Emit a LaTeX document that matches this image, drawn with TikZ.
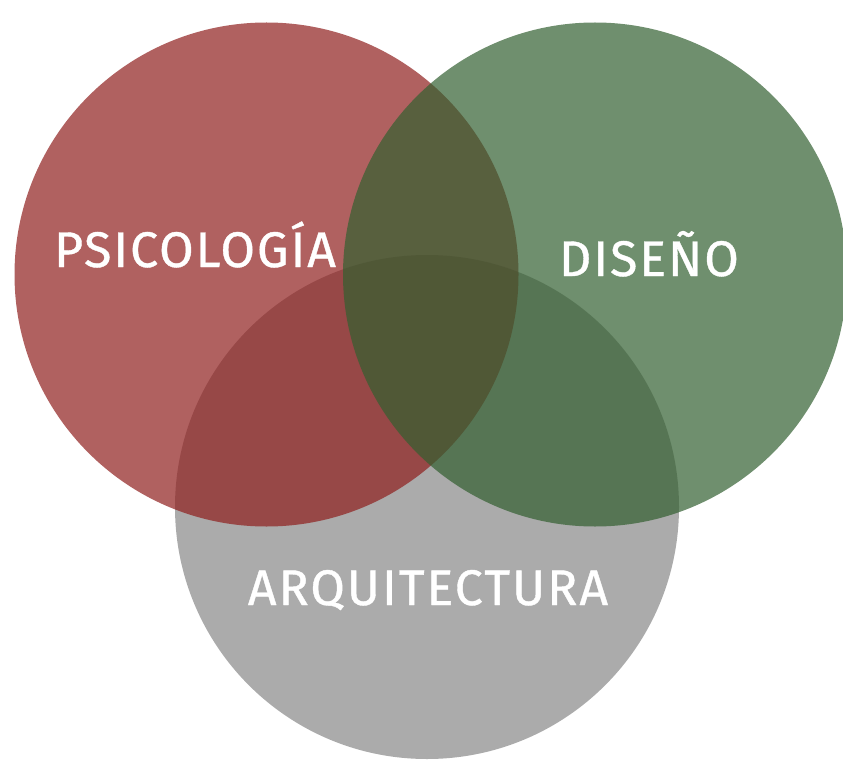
\documentclass[tikz,border=0pt]{standalone}
\usepackage{fontspec}
\newfontfamily\dinfont[LetterSpace=4,FakeBold=0.8]{Fira Sans}
\definecolor{redc}{RGB}{143,30,29}
\definecolor{greenc}{RGB}{50,95,48}
\definecolor{grayc}{RGB}{171,171,171}
\begin{document}
\begin{tikzpicture}[x=1pt,y=-1pt,
  blob/.style={circle,inner sep=0pt,minimum size=504pt},
  lbl/.style={text=white,font=\dinfont\fontsize{50}{50}\selectfont,anchor=base,inner sep=0pt}]
\useasboundingbox (0,0) rectangle (843,762);
\node[blob,fill=grayc] (arq) at (427,507) {};
\node[blob,fill=redc,fill opacity=0.7] (psi) at (266.5,274.5) {};
\node[blob,fill=greenc,fill opacity=0.7] (dis) at (595,274.5) {};
\node[lbl] (tpsi) at (195,267) {PSICOLOGÍA};
\node[lbl] (tdis) at (649,276) {DISEÑO};
\node[lbl] (tarq) at (428,605) {ARQUITECTURA};
\end{tikzpicture}
\end{document}
